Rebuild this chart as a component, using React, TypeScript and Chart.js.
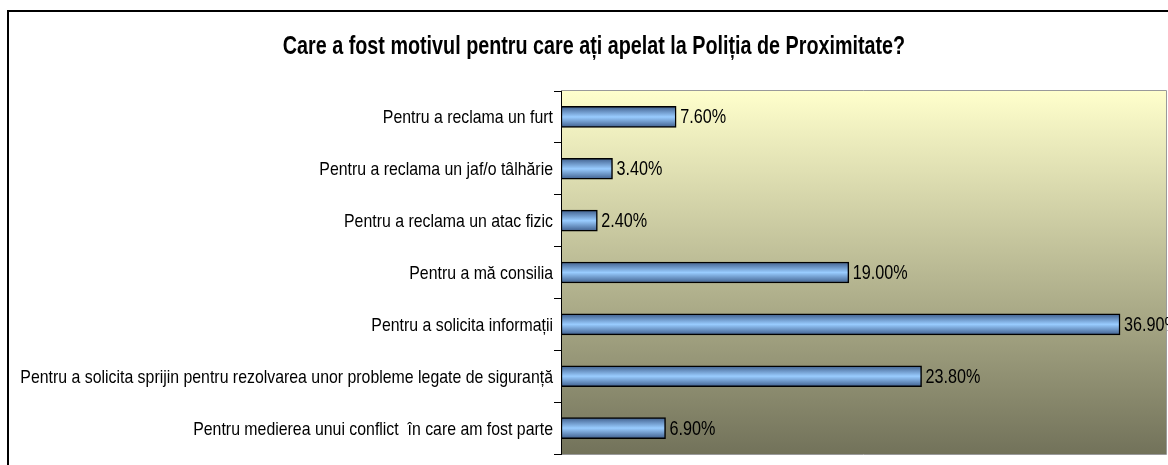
import React, { useEffect, useRef } from "react";
import { Chart, registerables } from "chart.js";

Chart.register(...registerables);

const TITLE = "Care a fost motivul pentru care ați apelat la Poliția de Proximitate?";
const categories = [
  "Pentru a reclama un furt",
  "Pentru a reclama un jaf/o tâlhărie",
  "Pentru a reclama un atac fizic",
  "Pentru a mă consilia",
  "Pentru a solicita informații",
  "Pentru a solicita sprijin pentru rezolvarea unor probleme legate de siguranță",
  "Pentru medierea unui conflict  în care am fost parte",
];
const values = [7.6, 3.4, 2.4, 19.0, 36.9, 23.8, 6.9];
const xMin = 0;
const xMax = 40;

const FONT = "'Liberation Sans', Arial, sans-serif";

function narrowText(ctx: any, text: string, x: number, y: number, font: string, scaleX: number, align: string) {
  ctx.save();
  ctx.font = font;
  ctx.textAlign = align;
  ctx.textBaseline = "alphabetic";
  ctx.translate(x, y);
  ctx.scale(scaleX, 1);
  ctx.fillText(text, 0, 0);
  ctx.restore();
}

const framePlugin = {
  id: "framePlugin",
  beforeDraw(chart: any) {
    const { ctx, chartArea } = chart;
    ctx.save();
    ctx.fillStyle = "#ffffff";
    ctx.fillRect(0, 0, chart.width, chart.height);
    ctx.strokeStyle = "#000000";
    ctx.lineWidth = 2;
    ctx.strokeRect(8, 11, 1172, 470);
    const g = ctx.createLinearGradient(0, chartArea.top, 0, chartArea.bottom);
    g.addColorStop(0, "#FFFFCC");
    g.addColorStop(1, "#72725A");
    ctx.fillStyle = g;
    ctx.fillRect(chartArea.left, chartArea.top, chartArea.right - chartArea.left, chartArea.bottom - chartArea.top);
    ctx.strokeStyle = "#9a9a9a";
    ctx.lineWidth = 1;
    ctx.beginPath();
    ctx.moveTo(chartArea.left, chartArea.top - 0.5);
    ctx.lineTo(chartArea.right - 0.5, chartArea.top - 0.5);
    ctx.lineTo(chartArea.right - 0.5, chartArea.bottom + 0.5);
    ctx.lineTo(chartArea.left, chartArea.bottom + 0.5);
    ctx.stroke();
    ctx.fillStyle = "#000000";
    narrowText(ctx, TITLE, 594, 54, `bold 25px ${FONT}`, 0.79, "center");
    ctx.restore();
  },
};

const labelPlugin = {
  id: "labelPlugin",
  afterDatasetsDraw(chart: any) {
    const { ctx } = chart;
    const meta = chart.getDatasetMeta(0);
    const ys = chart.scales.y;
    ctx.save();
    ctx.fillStyle = "#000000";
    meta.data.forEach((bar: any, i: number) => {
      const v = chart.data.datasets[0].data[i] as number;
      narrowText(ctx, v.toFixed(2) + "%", bar.x + 4, bar.y + 6.5, `19.5px ${FONT}`, 0.83, "left");
    });
    (chart.data.labels as string[]).forEach((lab: string, i: number) => {
      const y = ys.getPixelForTick(i);
      narrowText(ctx, lab, ys.right - 8, y + 6.5, `19px ${FONT}`, 0.835, "right");
    });
    ctx.restore();
  },
};

export default function App() {
  const ref = useRef<HTMLCanvasElement>(null);
  useEffect(() => {
    if (!ref.current) return;
    const chart = new Chart(ref.current, {
      type: "bar",
      data: {
        labels: categories,
        datasets: [
          {
            data: values,
            backgroundColor: (c: any) => {
              const ch = c.chart;
              const ys = ch.scales && ch.scales.y;
              if (!ys || c.dataIndex === undefined) return "#99CCFF";
              const y = ys.getPixelForTick(c.dataIndex);
              const g = ch.ctx.createLinearGradient(0, y - 10.5, 0, y + 10.5);
              g.addColorStop(0, "#3F5E8C");
              g.addColorStop(0.5, "#99CCFF");
              g.addColorStop(1, "#3F5E8C");
              return g;
            },
            borderColor: "#000000",
            borderWidth: 1.5,
            borderSkipped: false,
            barThickness: 21,
          },
        ],
      },
      options: {
        indexAxis: "y",
        responsive: false,
        animation: false,
        layout: { padding: { top: 91, right: 1, bottom: 7, left: 0 } },
        plugins: {
          legend: { display: false },
          title: { display: false },
          tooltip: { enabled: false },
        },
        scales: {
          x: {
            display: false,
            min: xMin,
            max: xMax,
          },
          y: {
            afterFit(scale: any) {
              scale.width = 561;
            },
            ticks: {
              display: true,
              color: "rgba(0,0,0,0)",
              font: { family: FONT, size: 15 },
              padding: 2,
              autoSkip: false,
            },
            grid: {
              display: true,
              drawOnChartArea: false,
              drawTicks: true,
              tickLength: 7,
              color: "#000000",
              offset: true,
            },
            border: { display: true, color: "#000000", width: 1 },
          },
        },
      },
      plugins: [framePlugin, labelPlugin],
    });
    return () => chart.destroy();
  }, []);
  return (
    <canvas
      ref={ref}
      width={1168}
      height={465}
      style={{ position: "absolute", left: 0, top: 0 }}
    />
  );
}
